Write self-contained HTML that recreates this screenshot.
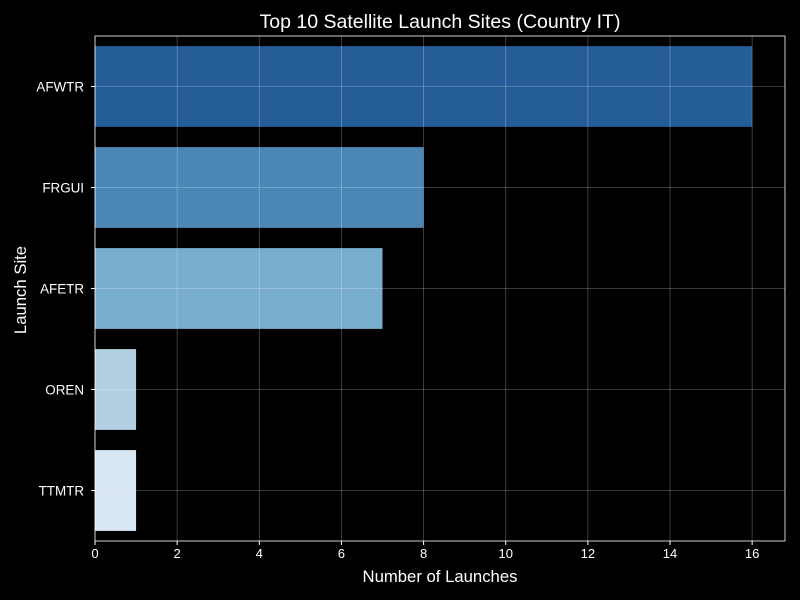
<!DOCTYPE html>
<html><head><meta charset="utf-8"><style>
body{margin:0;background:#000;}
svg{display:block;font-family:"Liberation Sans",sans-serif;}
</style></head><body>
<svg id="chart" width="800" height="600" viewBox="0 0 800 600">
<rect width="800" height="600" fill="#000"/>
<text x="440" y="28" fill="#fff" font-size="19.5" text-anchor="middle">Top 10 Satellite Launch Sites (Country IT)</text>
<text x="440" y="582" fill="#fff" font-size="16.7" text-anchor="middle">Number of Launches</text>
<text x="26" y="290" fill="#fff" font-size="16.7" text-anchor="middle" transform="rotate(-90 26 290)">Launch Site</text>
<g id="plot"></g>
</svg>
<script>
const sites = ["AFWTR","FRGUI","AFETR","OREN","TTMTR"];
const launches = [16, 8, 7, 1, 1];
const colors = ["#245d98","#4a87b6","#79adcd","#b3cfe2","#d9e6f3"];
const xTicks = [0,2,4,6,8,10,12,14,16];

const L=95, R=785, T=36, B=541, XMAX=16.8;
const x = v => L + v/XMAX*(R-L);
const band = (B-T)/sites.length;
const yc = i => T + band*(i+0.5);
const g = document.getElementById('plot');
const NS="http://www.w3.org/2000/svg";
function mk(tag, attrs){const e=document.createElementNS(NS,tag);for(const k in attrs)e.setAttribute(k,attrs[k]);g.appendChild(e);return e;}

sites.forEach((s,i)=>{
  const r=mk('rect',{x:x(0),y:yc(i)-band*0.4,width:x(launches[i])-x(0),height:band*0.8,fill:colors[i]});
  
  
});
xTicks.forEach(t=>{
  const l=mk('line',{x1:x(t),x2:x(t),y1:T,y2:B,stroke:"#fff","stroke-opacity":0.3,"stroke-width":0.8});
  
  
  const tk=mk('line',{x1:x(t),x2:x(t),y1:B,y2:B+4,stroke:"#fff"});
  
  
  const tx=mk('text',{x:x(t),y:B+17,fill:"#fff","font-size":13,"text-anchor":"middle"});
  tx.textContent=t;
  
  
});
sites.forEach((s,i)=>{
  const l=mk('line',{x1:L,x2:R,y1:yc(i),y2:yc(i),stroke:"#fff","stroke-opacity":0.3,"stroke-width":0.8});
  
  
  const tk=mk('line',{x1:L-4,x2:L,y1:yc(i),y2:yc(i),stroke:"#fff"});
  
  
  const tx=mk('text',{x:L-11,y:yc(i)+5,fill:"#fff","font-size":13.4,"text-anchor":"end"});
  tx.textContent=s;
  
  
});
const f=mk('rect',{x:L,y:T,width:R-L,height:B-T,fill:"none",stroke:"#fff","stroke-width":0.8});


</script>
</body></html>
